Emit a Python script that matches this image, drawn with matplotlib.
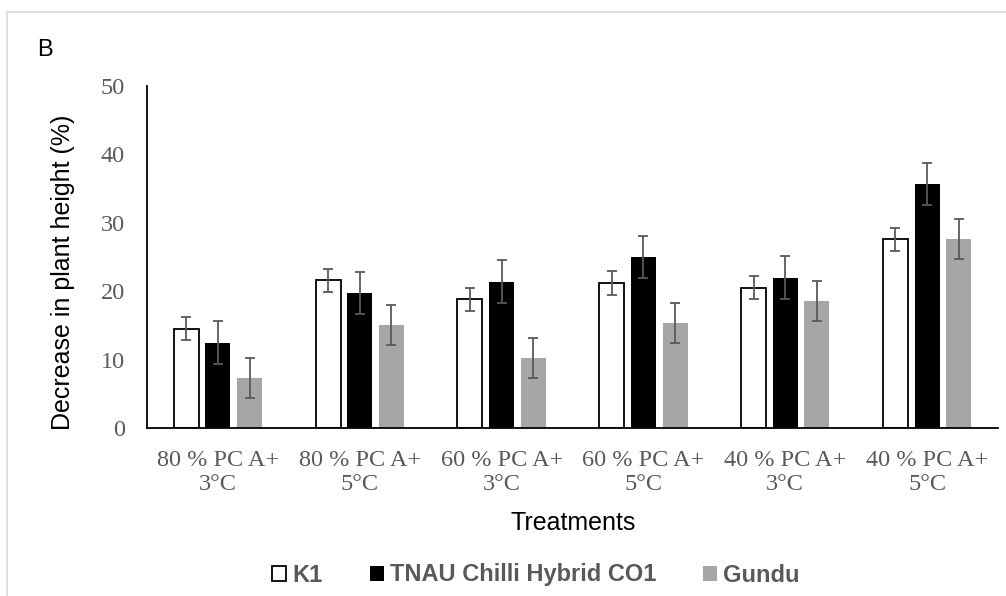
import numpy as np
import matplotlib
matplotlib.use('Agg')
import matplotlib.pyplot as plt
from matplotlib.patches import Rectangle

# данные
treatments = ['80 % PC A+\n3°C', '80 % PC A+\n5°C', '60 % PC A+\n3°C',
              '60 % PC A+\n5°C', '40 % PC A+\n3°C', '40 % PC A+\n5°C']
series = ['K1', 'TNAU Chilli Hybrid CO1', 'Gundu']
k1 = [14.5, 21.6, 18.8, 21.2, 20.5, 27.6]
tnau = [12.5, 19.7, 21.4, 25.0, 22.0, 35.7]
gundu = [7.3, 15.1, 10.2, 15.4, 18.6, 27.6]
k1_err = [1.7] * 6
tnau_err = [3.1] * 6
gundu_err = [2.9] * 6

GREY_TXT = '#595959'
W, H = 1006, 596


def main():
    fig = plt.figure(figsize=(W / 100, H / 100), dpi=100)
    ax = fig.add_axes([147 / W, 1 - 428 / H, 851 / W, 342 / H])

    # рамка вокруг диаграммы
    fig.patches.append(Rectangle((7 / W, -0.1), 1.2, 1 - 12 / H + 0.1,
                                 transform=fig.transFigure, fill=False,
                                 edgecolor='#d9d9d9', linewidth=1.2))

    x = np.arange(len(treatments))
    w = 0.176
    step = 0.223
    ekw = dict(ecolor=GREY_TXT, elinewidth=1.3, capsize=3.8, capthick=1.3)

    ax.bar(x - step, k1, w, color='white', edgecolor='black', linewidth=1.3,
           yerr=k1_err, error_kw=ekw, label=series[0])
    ax.bar(x, tnau, w, color='black', yerr=tnau_err, error_kw=ekw,
           label=series[1])
    ax.bar(x + step, gundu, w, color='#a6a6a6', yerr=gundu_err, error_kw=ekw,
           label=series[2])

    ax.set_xlim(-0.5, 5.5)
    ax.set_ylim(0, 50)
    ax.set_yticks(range(0, 51, 10))
    ax.set_xticks(x)
    ax.set_xticklabels(treatments)

    for s in ['top', 'right']:
        ax.spines[s].set_visible(False)
    for s in ['left', 'bottom']:
        ax.spines[s].set_linewidth(1.3)
    ax.tick_params(length=0)
    ax.tick_params(axis='y', pad=16)
    ax.tick_params(axis='x', pad=16)
    for lab in ax.get_xticklabels() + ax.get_yticklabels():
        lab.set_fontfamily('Liberation Serif')
        lab.set_fontsize(17.5)
        lab.set_color(GREY_TXT)

    # подписи осей
    fig.text(63 / W, 1 - 272 / H, 'Decrease in plant height (%)',
             rotation=90, ha='center', va='center',
             fontfamily='Liberation Sans', fontsize=18)
    fig.text(573 / W, 1 - 523 / H, 'Treatments', ha='center', va='center',
             fontfamily='Liberation Sans', fontsize=18)

    fig.text(37 / W, 1 - 50 / H, 'B', fontfamily='Liberation Sans',
             fontsize=17, va='center')

    leg = fig.legend(loc='center', bbox_to_anchor=(536 / W, 1 - 575 / H),
                     ncol=3, frameon=False, handlelength=0.6,
                     handleheight=0.6, handletextpad=0.25, columnspacing=2.0,
                     borderpad=0,
                     prop=dict(family='Liberation Sans', weight='bold',
                               size=17))
    for t in leg.get_texts():
        t.set_color(GREY_TXT)

    fig.savefig('out.png', dpi=100)


if __name__ == "__main__":
    main()
